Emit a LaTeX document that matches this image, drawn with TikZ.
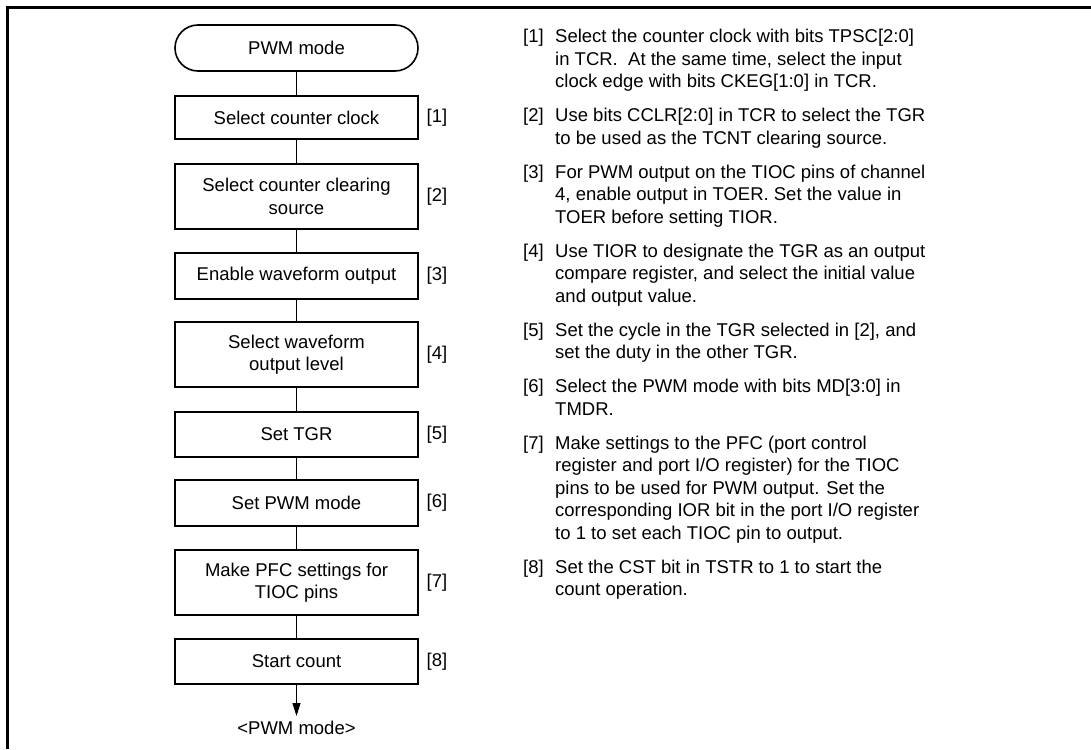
\documentclass[tikz,border=0pt]{standalone}
\usepackage{fontspec}
\setmainfont{Liberation Sans}
\usetikzlibrary{arrows.meta}
\newcommand{\fs}{\rule{0pt}{15pt}}
\begin{document}
\begin{tikzpicture}[x=1pt,y=-1pt,
  every node/.style={font=\fontsize{18.5}{22.5}\selectfont, inner sep=0pt},
  stepbox/.style={draw, line width=1.6pt, minimum width=243pt, align=center},
  termbox/.style={draw, line width=1.6pt, minimum width=243pt, minimum height=46pt, rounded corners=23pt},
  conn/.style={line width=0.9pt},
  tag/.style={anchor=center},
  note/.style={anchor=north west, align=left},
  notetag/.style={anchor=north west}]
\useasboundingbox (0,0) rectangle (1091,749);
\draw[line width=2.5pt] (7.5,749) -- (7.5,7.5) -- (1091,7.5);
% flowchart
\node[termbox] (t) at (296.5,48) {PWM mode};
\node[stepbox, minimum height=43pt] (b1) at (296.5,117.5) {Select counter clock};
\node[stepbox, minimum height=65pt] (b2) at (296.5,196.5) {Select counter clearing\\source};
\node[stepbox, minimum height=46pt] (b3) at (296.5,276) {Enable waveform output};
\node[stepbox, minimum height=65pt] (b4) at (296.5,354.5) {Select waveform\\output level};
\node[stepbox, minimum height=45pt] (b5) at (296.5,434.5) {Set TGR};
\node[stepbox, minimum height=46pt] (b6) at (296.5,503) {Set PWM mode};
\node[stepbox, minimum height=65pt] (b7) at (296.5,582.5) {Make PFC settings for\\TIOC pins};
\node[stepbox, minimum height=45pt] (b8) at (296.5,661.5) {Start count};
\node (end) at (296.5,728) {<PWM mode>};
\coordinate (tip) at (296.5,716);
\draw[conn] (t) -- (b1);
\draw[conn] (b1) -- (b2);
\draw[conn] (b2) -- (b3);
\draw[conn] (b3) -- (b4);
\draw[conn] (b4) -- (b5);
\draw[conn] (b5) -- (b6);
\draw[conn] (b6) -- (b7);
\draw[conn] (b7) -- (b8);
\draw[conn, -{Triangle[length=13pt,width=8pt]}] (b8) -- (tip);
% step tags
\node[tag] (g1) at (437,117.5) {[1]};
\node[tag] (g2) at (437,196.5) {[2]};
\node[tag] (g3) at (437,276) {[3]};
\node[tag] (g4) at (437,354.5) {[4]};
\node[tag] (g5) at (437,434.5) {[5]};
\node[tag] (g6) at (437,503) {[6]};
\node[tag] (g7) at (437,582.5) {[7]};
\node[tag] (g8) at (437,661.5) {[8]};
% notes (first baseline = y + 15)
\node[notetag] (n1) at (523,27.5) {\fs[1]};
\node[note] (m1) at (555,27.5) {\fs Select the counter clock with bits TPSC[2:0]\\in TCR.\ \ At the same time, select the input\\clock edge with bits CKEG[1:0] in TCR.};
\node[notetag] (n2) at (523,106.5) {\fs[2]};
\node[note] (m2) at (555,106.5) {\fs Use bits CCLR[2:0] in TCR to select the TGR\\to be used as the TCNT clearing source.};
\node[notetag] (n3) at (523,163) {\fs[3]};
\node[note] (m3) at (555,163) {\fs For PWM output on the TIOC pins of channel\\4, enable output in TOER. Set the value in\\TOER before setting TIOR.};
\node[notetag] (n4) at (523,242) {\fs[4]};
\node[note] (m4) at (555,242) {\fs Use TIOR to designate the TGR as an output\\compare register, and select the initial value\\and output value.};
\node[notetag] (n5) at (523,321) {\fs[5]};
\node[note] (m5) at (555,321) {\fs Set the cycle in the TGR selected in [2], and\\set the duty in the other TGR.};
\node[notetag] (n6) at (523,377.5) {\fs[6]};
\node[note] (m6) at (555,377.5) {\fs Select the PWM mode with bits MD[3:0] in\\TMDR.};
\node[notetag] (n7) at (523,434) {\fs[7]};
\node[note] (m7) at (555,434) {\fs Make settings to the PFC (port control\\register and port I/O register) for the TIOC\\pins to be used for PWM output. Set the\\corresponding IOR bit in the port I/O register\\to 1 to set each TIOC pin to output.};
\node[notetag] (n8) at (523,558) {\fs[8]};
\node[note] (m8) at (555,558) {\fs Set the CST bit in TSTR to 1 to start the\\count operation.};
\end{tikzpicture}
\end{document}
